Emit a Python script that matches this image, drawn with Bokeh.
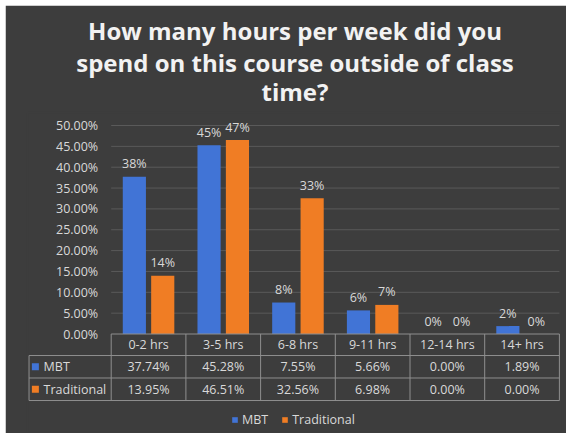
from bokeh.plotting import figure
from bokeh.models import (Range1d, LinearAxis, FixedTicker, PrintfTickFormatter,
                          ColumnDataSource, Legend, LegendItem, Title)
from bokeh.transform import dodge
from bokeh.core.properties import value
from bokeh.embed import file_html
from bokeh.resources import INLINE

# ---- data ----
categories = ["0-2 hrs", "3-5 hrs", "6-8 hrs", "9-11 hrs", "12-14 hrs", "14+ hrs"]
series_names = ["MBT", "Traditional"]
mbt = [37.74, 45.28, 7.55, 5.66, 0.00, 1.89]
traditional = [13.95, 46.51, 32.56, 6.98, 0.00, 0.00]
y_ticks = [0, 5, 10, 15, 20, 25, 30, 35, 40, 45, 50]
title_lines = ["How many hours per week did you",
               "spend on this course outside of class",
               "time?"]

# ---- style ----
BG = "#3d3d3d"
TXT = "#d9d9d9"
GRID = "#5a5a5a"
BORDER = "#8f8f8f"
BLUE = "#4174d6"
ORANGE = "#f07d24"
FONT = "Open Sans"
FS = "12.5px"

x_idx = list(range(len(categories)))
src = ColumnDataSource(dict(
    x=x_idx, cat=categories, mbt=mbt, trad=traditional,
    mbt_lbl=[f"{v:.0f}%" for v in mbt],
    trad_lbl=[f"{v:.0f}%" for v in traditional],
    mbt_txt=[f"{v:.2f}%" for v in mbt],
    trad_txt=[f"{v:.2f}%" for v in traditional],
))

p = figure(width=561, height=428, output_backend="svg", toolbar_location=None,
           x_range=Range1d(-1.6205, 5.5415), y_range=Range1d(-23.86, 53.12),
           x_axis_type=None, y_axis_type=None,
           min_border_left=22, min_border_right=4, min_border_top=107, min_border_bottom=0,
           background_fill_color=BG, border_fill_color=BG,
           outline_line_color=BG, outline_line_width=2)
p.margin = (5, 5, 5, 5)
p.title.visible = False

# small spacer between the plot area and the title block
p.add_layout(Title(text=" ", text_font_size="6px", standoff=0), "above")
# title: three centred lines (the last added sits on top)
title_standoffs = {2: -6, 1: -6, 0: 0}
for idx in (2, 1, 0):
    p.add_layout(Title(text=title_lines[idx], align="center", text_font=FONT,
                       text_font_style="bold", text_font_size="24px",
                       text_color="#f2f2f2", standoff=title_standoffs[idx]), "above")

# y axis at the left edge of the plotting area
yaxis = LinearAxis(ticker=FixedTicker(ticks=y_ticks),
                   formatter=PrintfTickFormatter(format="%.2f%%"),
                   fixed_location=x_idx[0] - 0.5,
                   axis_line_color=None, major_tick_line_color=None,
                   minor_tick_line_color=None, major_tick_out=0, major_tick_in=0,
                   major_label_standoff=13, major_label_text_font=FONT,
                   major_label_text_font_size=FS, major_label_text_color=TXT)
p.add_layout(yaxis, "left")

# horizontal gridlines
left_edge = x_idx[0] - 0.5
right_edge = x_idx[-1] + 0.5
gy = y_ticks[1:]
p.segment(x0=[left_edge] * len(gy), y0=gy, x1=[right_edge] * len(gy), y1=gy,
          line_color=GRID, line_width=1)

# bars
OFF = 0.19
BW = 0.31
r1 = p.vbar(x=dodge("x", -OFF, range=p.x_range), top="mbt", width=BW, source=src,
            fill_color=BLUE, line_color=None)
r2 = p.vbar(x=dodge("x", OFF, range=p.x_range), top="trad", width=BW, source=src,
            fill_color=ORANGE, line_color=None)

# data labels
for col, off in (("mbt", -OFF), ("trad", OFF)):
    p.text(x=dodge("x", off, range=p.x_range), y=col, text=col + "_lbl", source=src,
           y_offset=-13, text_align="center", text_baseline="middle",
           text_font=value(FONT), text_font_size=FS, text_color=TXT)

# ---- data table ----
ROW_EDGES = [0, -5.16, -10.55, -15.95]
ROW_MID = [(ROW_EDGES[i] + ROW_EDGES[i + 1]) / 2 for i in range(3)]
KEY_LEFT = -1.60

for y, col in zip(ROW_MID, ("cat", "mbt_txt", "trad_txt")):
    p.text(x="x", y=y, text=col, source=src, text_align="center",
           text_baseline="middle", text_font=value(FONT), text_font_size=FS,
           text_color=TXT)

# key column
key_src = ColumnDataSource(dict(name=series_names, color=[BLUE, ORANGE],
                                y=ROW_MID[1:3]))
p.scatter(x=KEY_LEFT + 0.085, y="y", marker="square", size=7, fill_color="color",
          line_color=None, source=key_src)
p.text(x=KEY_LEFT + 0.195, y="y", text="name", source=key_src, text_align="left",
       text_baseline="middle", text_font=value(FONT), text_font_size=FS, text_color=TXT)

# table borders
hx0 = [left_edge, KEY_LEFT, KEY_LEFT, KEY_LEFT]
hx1 = [right_edge] * 4
p.segment(x0=hx0, y0=ROW_EDGES, x1=hx1, y1=ROW_EDGES, line_color=BORDER, line_width=1)
vx = [i - 0.5 for i in range(len(categories) + 1)]
p.segment(x0=vx, y0=[ROW_EDGES[0]] * len(vx), x1=vx, y1=[ROW_EDGES[-1]] * len(vx),
          line_color=BORDER, line_width=1)
p.segment(x0=[KEY_LEFT], y0=[ROW_EDGES[1]], x1=[KEY_LEFT], y1=[ROW_EDGES[-1]],
          line_color=BORDER, line_width=1)

# legend
legend = Legend(items=[LegendItem(label=series_names[0], renderers=[r1]),
                       LegendItem(label=series_names[1], renderers=[r2])],
                orientation="horizontal", location=(204, 5),
                glyph_width=7, glyph_height=7, label_standoff=4, spacing=13,
                padding=0, margin=0, label_height=14,
                label_text_font=FONT, label_text_font_size=FS, label_text_color=TXT,
                background_fill_alpha=0, border_line_alpha=0)
p.add_layout(legend)

open("out.html", "w").write(file_html(p, INLINE))
